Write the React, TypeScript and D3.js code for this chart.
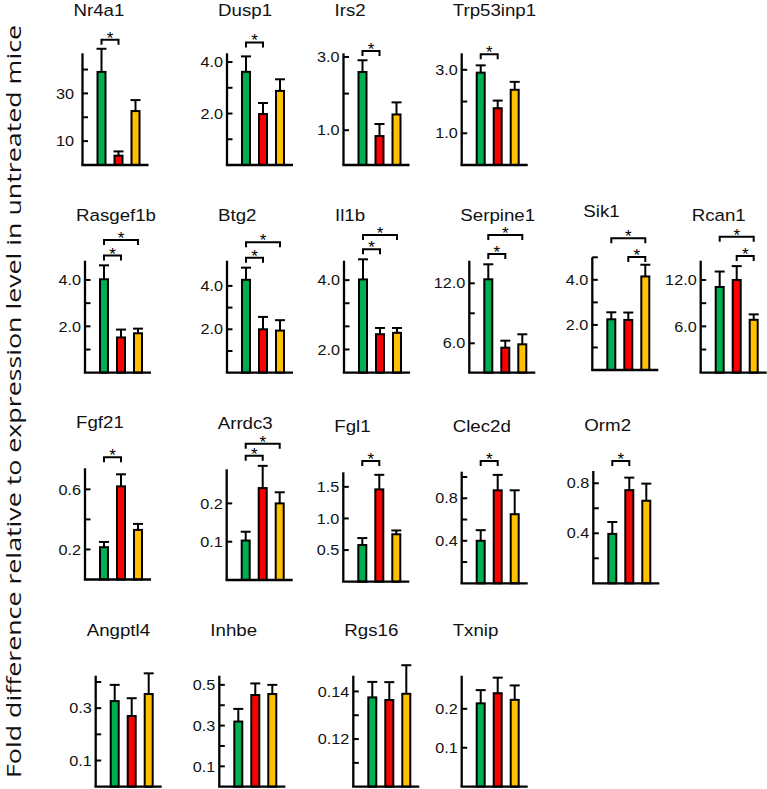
import React from "react";
import * as d3 from "d3";

// ---------- data ----------
const genes = [
  "Nr4a1", "Dusp1", "Irs2", "Trp53inp1",
  "Rasgef1b", "Btg2", "Il1b", "Serpine1", "Sik1", "Rcan1",
  "Fgf21", "Arrdc3", "Fgl1", "Clec2d", "Orm2",
  "Angptl4", "Inhbe", "Rgs16", "Txnip",
];

const greenMean = [39, 3.62, 2.59, 2.91, 4.03, 4.28, 4.02, 12.4, 2.25, 11.1, 0.215, 0.103, 0.58, 0.4, 0.395, 0.327, 0.32, 0.1375, 0.214];
const greenSem = [9.7, 0.6, 0.32, 0.23, 0.6, 0.56, 0.58, 1.5, 0.31, 2.0, 0.035, 0.023, 0.11, 0.1, 0.095, 0.062, 0.062, 0.0065, 0.034];
const redMean = [3.9, 1.98, 0.84, 1.79, 1.52, 2.0, 2.44, 5.56, 2.22, 12.0, 0.62, 0.24, 1.46, 0.875, 0.745, 0.27, 0.45, 0.1364, 0.24];
const redSem = [1.8, 0.43, 0.33, 0.24, 0.34, 0.57, 0.18, 0.7, 0.33, 1.8, 0.08, 0.058, 0.23, 0.145, 0.1, 0.068, 0.057, 0.0075, 0.04];
const yellowMean = [22.6, 2.88, 1.43, 2.37, 1.7, 1.94, 2.48, 5.9, 4.15, 6.85, 0.33, 0.2, 0.75, 0.65, 0.66, 0.354, 0.455, 0.139, 0.223];
const yellowSem = [4.6, 0.45, 0.33, 0.25, 0.2, 0.48, 0.14, 1.0, 0.52, 0.7, 0.04, 0.029, 0.06, 0.225, 0.137, 0.079, 0.045, 0.012, 0.037];

const yDomains: [number, number][] = [
  [0, 46.8], [0, 4.34], [0.05, 3.1], [0, 3.52],
  [0, 4.83], [0, 5.16], [1.33, 4.56], [3.06, 14.26], [0, 5.0], [0, 14.5],
  [0, 0.74], [0, 0.289], [0, 1.73], [0, 1.05], [0, 0.898],
  [0, 0.424], [0, 0.545], [0.1, 0.1466], [0, 0.285],
];

const majorTicks = [
  [10, 30], [2, 4], [1, 3], [1, 3],
  [2, 4], [2, 4], [2, 4], [6, 12], [2, 4], [6, 12],
  [0.2, 0.6], [0.1, 0.2], [0.5, 1.0, 1.5], [0.4, 0.8], [0.4, 0.8],
  [0.1, 0.3], [0.1, 0.3, 0.5], [0.12, 0.14], [0.1, 0.2],
];
const tickLabels = [
  ["10\u00A0", "30\u00A0"], ["2.0", "4.0"], ["1.0", "3.0"], ["1.0", "3.0"],
  ["2.0", "4.0"], ["2.0", "4.0"], ["2.0", "4.0"], ["6.0", "12.0"], ["2.0", "4.0"], ["6.0", "12.0"],
  ["0.2", "0.6"], ["0.1", "0.2"], ["0.5", "1.0", "1.5"], ["0.4", "0.8"], ["0.4", "0.8"],
  ["0.1", "0.3"], ["0.1", "0.3", "0.5"], ["0.12", "0.14"], ["0.1", "0.2"],
];
const minorTicks = [
  [20, 40], [1, 3], [2], [2],
  [1, 3], [1, 3], [2.667, 3.333], [9], [1, 3, 5], [3, 9],
  [0.4], [], [], [0.2, 0.6, 1.0], [0.2, 0.6],
  [0.2, 0.4], [0.2, 0.4], [0.11, 0.13], [],
];

// significance comparisons: [barA, barB, level in axis units]
const sigBrackets: [number, number, number][][] = [
  [[0, 1, 52.5]], [[0, 1, 4.76]], [[0, 1, 3.16]], [[0, 1, 3.49]],
  [[0, 1, 5.05], [0, 2, 5.72]], [[0, 1, 5.3], [0, 2, 6.01]], [[0, 1, 4.89], [0, 2, 5.3]],
  [[0, 1, 14.93], [0, 2, 16.83]], [[1, 2, 5.01], [0, 2, 5.85]], [[1, 2, 15.1], [0, 2, 17.6]],
  [[0, 1, 0.813]], [[0, 1, 0.3245], [0, 2, 0.356]], [[0, 1, 1.91]], [[0, 1, 1.151]], [[0, 1, 0.978]],
  [], [], [], [],
];

const yAxisLabel = "Fold difference relative to expression level in untreated mice";

// ---------- layout ----------
const panelLayout = [
  { x: 82.5, top: 53.3, base: 165 },
  { x: 227, top: 53.3, base: 165 },
  { x: 343.5, top: 53.3, base: 165 },
  { x: 461.7, top: 53.3, base: 165 },
  { x: 85, top: 260.7, base: 372.7 },
  { x: 227, top: 260.7, base: 372.7 },
  { x: 344, top: 260.7, base: 372.7 },
  { x: 469.3, top: 260.7, base: 372.7 },
  { x: 592.3, top: 257.3, base: 370 },
  { x: 700.7, top: 260.7, base: 372.7 },
  { x: 85, top: 468.3, base: 579.5 },
  { x: 226.7, top: 469.3, base: 580 },
  { x: 343.3, top: 472.3, base: 581.7 },
  { x: 461.7, top: 471.7, base: 583.3 },
  { x: 593.3, top: 471, base: 583.3 },
  { x: 95.7, top: 675.7, base: 786.7 },
  { x: 219.3, top: 675.7, base: 786.7 },
  { x: 353.3, top: 675.7, base: 786.7 },
  { x: 461.7, top: 675.7, base: 786.7 },
];

const COLORS = ["#00b050", "#ff0000", "#ffc000"];
const BAR_OFFSETS = [19, 36, 53];
const BAR_W = 8;
const AXIS_W = 2.3;

function Panel({ gi }: { gi: number }) {
  const L = panelLayout[gi];
  const y = d3.scaleLinear().domain(yDomains[gi]).range([L.base, L.top]);
  const means = [greenMean[gi], redMean[gi], yellowMean[gi]];
  const sems = [greenSem[gi], redSem[gi], yellowSem[gi]];
  const titleY = Math.max(L.top - 40, 16);
  return (
    <g>
      <text
        transform={`translate(${L.x - 9},${titleY}) scale(1.1,1)`}
        fontSize={17}
        fill="#111"
      >
        {genes[gi]}
      </text>
      {means.map((m, i) => {
        const cx = L.x + BAR_OFFSETS[i];
        const yt = y(m);
        const ye = y(m + sems[i]);
        return (
          <g key={i}>
            <line x1={cx} x2={cx} y1={yt} y2={ye} stroke="#000" strokeWidth={2} />
            <line x1={cx - 5} x2={cx + 5} y1={ye} y2={ye} stroke="#000" strokeWidth={2} />
            <rect
              x={cx - BAR_W / 2}
              y={yt}
              width={BAR_W}
              height={L.base - yt}
              fill={COLORS[i]}
              stroke="#000"
              strokeWidth={2}
            />
          </g>
        );
      })}
      <line x1={L.x} x2={L.x} y1={L.top} y2={L.base} stroke="#000" strokeWidth={AXIS_W} />
      <line x1={L.x - 1.15} x2={L.x + 66} y1={L.base} y2={L.base} stroke="#000" strokeWidth={AXIS_W} />
      {majorTicks[gi].concat(minorTicks[gi]).map((v, k) => (
        <line key={k} x1={L.x} x2={L.x + 5.5} y1={y(v)} y2={y(v)} stroke="#000" strokeWidth={2} />
      ))}
      {majorTicks[gi].map((v, k) => (
        <text
          key={k}
          transform={`translate(${L.x - 4},${y(v)}) scale(1.12,1)`}
          textAnchor="end"
          dominantBaseline="central"
          fontSize={14.5}
          fill="#111"
        >
          {tickLabels[gi][k]}
        </text>
      ))}
      {sigBrackets[gi].map(([a, b, h], k) => {
        const x1 = L.x + BAR_OFFSETS[a];
        const x2 = L.x + BAR_OFFSETS[b];
        const yy = y(h);
        return (
          <g key={k}>
            <path
              d={`M${x1},${yy + 5}V${yy}H${x2}V${yy + 5}`}
              fill="none"
              stroke="#000"
              strokeWidth={2}
            />
            <text x={(x1 + x2) / 2} y={yy + 4} textAnchor="middle" fontSize={17} fill="#000">
              *
            </text>
          </g>
        );
      })}
    </g>
  );
}

export default function App() {
  return (
    <svg
      width={767}
      height={789}
      style={{ position: "absolute", left: 0, top: 0, background: "#fff" }}
      fontFamily="'Liberation Sans', Arial, sans-serif"
    >
      <rect width={767} height={789} fill="#fff" />
      <text
        transform="translate(13.5,401.5) rotate(-90)"
        textAnchor="middle"
        dominantBaseline="central"
        fontFamily="'Open Sans', sans-serif"
        fontSize={20}
        textLength={753}
        lengthAdjust="spacingAndGlyphs"
        fill="#111"
      >
        {yAxisLabel}
      </text>
      {genes.map((_, gi) => (
        <Panel key={gi} gi={gi} />
      ))}
    </svg>
  );
}
